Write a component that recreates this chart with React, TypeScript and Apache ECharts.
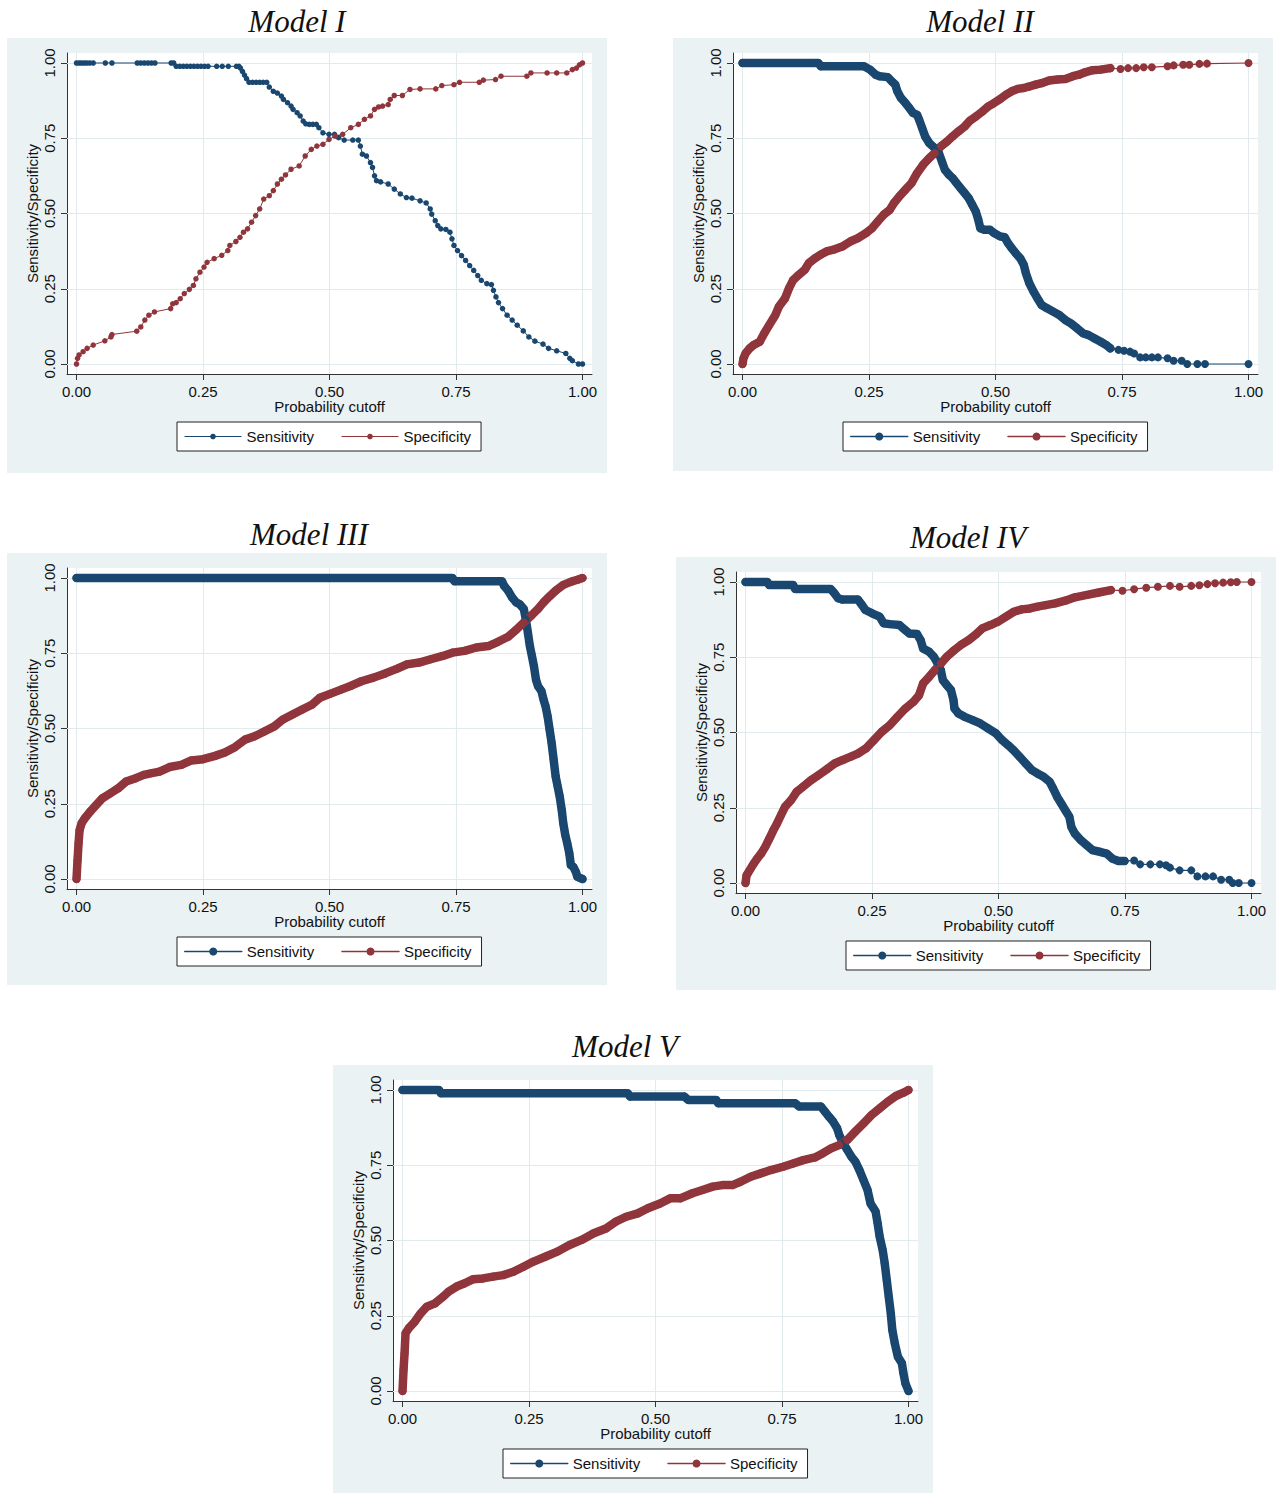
import React, { useEffect, useRef } from "react";
import * as echarts from "echarts";

type Pt = [number, number];

const TICKS = [0, 0.25, 0.5, 0.75, 1];
const TICK_LABELS = ["0.00", "0.25", "0.50", "0.75", "1.00"];
const X_NAME = "Probability cutoff";
const Y_NAME = "Sensitivity/Specificity";
const SERIES_NAMES = ["Sensitivity", "Specificity"];

// ---------- Model I ----------
const m1Sens: Pt[] = [
  [0, 1], [0.005, 1], [0.01, 1], [0.015, 1], [0.02, 1], [0.026, 1], [0.033, 1], [0.057, 1], [0.07, 1],
  [0.12, 1], [0.127, 1], [0.134, 1], [0.141, 1], [0.148, 1], [0.155, 1], [0.187, 1], [0.192, 1],
  [0.197, 0.989], [0.204, 0.989], [0.211, 0.989], [0.218, 0.989], [0.225, 0.989], [0.232, 0.989], [0.239, 0.989],
  [0.246, 0.989], [0.253, 0.989], [0.26, 0.989], [0.277, 0.989], [0.288, 0.989], [0.3, 0.989], [0.316, 0.989], [0.321, 0.989],
  [0.324, 0.983], [0.328, 0.972], [0.332, 0.96], [0.336, 0.948], [0.341, 0.936], [0.348, 0.936], [0.355, 0.936],
  [0.362, 0.936], [0.369, 0.936], [0.376, 0.936], [0.381, 0.92], [0.389, 0.906], [0.397, 0.9], [0.405, 0.89],
  [0.409, 0.879], [0.417, 0.868], [0.424, 0.857], [0.428, 0.846], [0.436, 0.835], [0.442, 0.824], [0.448, 0.807],
  [0.453, 0.798], [0.46, 0.796], [0.467, 0.796], [0.474, 0.796], [0.479, 0.785], [0.487, 0.768], [0.499, 0.763],
  [0.51, 0.763], [0.518, 0.752], [0.529, 0.744], [0.546, 0.744], [0.557, 0.744], [0.561, 0.724], [0.565, 0.697],
  [0.573, 0.691], [0.581, 0.669], [0.585, 0.653], [0.589, 0.625], [0.593, 0.609], [0.601, 0.605], [0.616, 0.598],
  [0.628, 0.581], [0.64, 0.565], [0.652, 0.553], [0.663, 0.551], [0.679, 0.542], [0.691, 0.535], [0.699, 0.515],
  [0.702, 0.498], [0.709, 0.476], [0.714, 0.46], [0.72, 0.449], [0.73, 0.447], [0.738, 0.438], [0.742, 0.416],
  [0.746, 0.394], [0.753, 0.377], [0.761, 0.36], [0.769, 0.344], [0.777, 0.327], [0.785, 0.311], [0.793, 0.294],
  [0.8, 0.278], [0.811, 0.267], [0.82, 0.264], [0.824, 0.245], [0.829, 0.223], [0.834, 0.204], [0.842, 0.184],
  [0.851, 0.162], [0.861, 0.146], [0.871, 0.129], [0.883, 0.11], [0.894, 0.09], [0.906, 0.076], [0.922, 0.066],
  [0.933, 0.052], [0.949, 0.044], [0.967, 0.035], [0.975, 0.019], [0.98, 0.011], [0.992, 0], [1, 0],
];
const m1Spec: Pt[] = [
  [0, 0], [0.002, 0.019], [0.005, 0.03], [0.013, 0.041], [0.021, 0.052], [0.033, 0.063], [0.056, 0.077],
  [0.068, 0.09], [0.07, 0.098], [0.119, 0.109], [0.127, 0.123], [0.135, 0.146], [0.143, 0.162], [0.154, 0.173],
  [0.186, 0.184], [0.19, 0.2], [0.197, 0.204], [0.205, 0.217], [0.213, 0.234], [0.223, 0.248], [0.231, 0.261],
  [0.236, 0.283], [0.244, 0.305], [0.252, 0.322], [0.258, 0.338], [0.272, 0.35], [0.287, 0.361], [0.299, 0.377],
  [0.303, 0.394], [0.315, 0.407], [0.323, 0.421], [0.33, 0.438], [0.338, 0.449], [0.346, 0.471], [0.354, 0.493],
  [0.362, 0.515], [0.37, 0.548], [0.381, 0.559], [0.389, 0.576], [0.397, 0.598], [0.405, 0.614], [0.413, 0.628],
  [0.424, 0.647], [0.44, 0.658], [0.452, 0.691], [0.464, 0.713], [0.475, 0.724], [0.487, 0.73], [0.499, 0.746],
  [0.511, 0.757], [0.526, 0.763], [0.542, 0.785], [0.557, 0.796], [0.569, 0.813], [0.581, 0.824], [0.589, 0.846],
  [0.597, 0.854], [0.605, 0.857], [0.616, 0.862], [0.62, 0.879], [0.628, 0.892], [0.644, 0.892], [0.659, 0.912],
  [0.679, 0.914], [0.71, 0.914], [0.722, 0.925], [0.746, 0.928], [0.757, 0.936], [0.796, 0.936], [0.804, 0.943],
  [0.828, 0.945], [0.839, 0.956], [0.89, 0.956], [0.898, 0.967], [0.93, 0.967], [0.949, 0.967], [0.969, 0.967],
  [0.98, 0.978], [0.988, 0.983], [0.994, 0.994], [1, 1],
];

// ---------- Model II ----------
const m2Sens: Pt[] = [
  [0, 1], [0.15, 1], [0.155, 0.989], [0.24, 0.989], [0.252, 0.978], [0.263, 0.961], [0.271, 0.956], [0.287, 0.953],
  [0.295, 0.939], [0.302, 0.928], [0.306, 0.906], [0.313, 0.884], [0.322, 0.867], [0.33, 0.85], [0.337, 0.834],
  [0.345, 0.828], [0.349, 0.812], [0.355, 0.784], [0.361, 0.756], [0.369, 0.734], [0.38, 0.717], [0.388, 0.701],
  [0.394, 0.673], [0.4, 0.645], [0.408, 0.629], [0.415, 0.618], [0.423, 0.601], [0.431, 0.584], [0.439, 0.568],
  [0.447, 0.551], [0.454, 0.529], [0.461, 0.507], [0.466, 0.479], [0.47, 0.451], [0.478, 0.446], [0.489, 0.446],
  [0.497, 0.435], [0.509, 0.424], [0.518, 0.421], [0.525, 0.401], [0.532, 0.385], [0.54, 0.368], [0.549, 0.351],
  [0.556, 0.329], [0.56, 0.302], [0.567, 0.268], [0.575, 0.241], [0.583, 0.218], [0.591, 0.196], [0.602, 0.185],
  [0.614, 0.174], [0.626, 0.163], [0.638, 0.146], [0.649, 0.135], [0.661, 0.119], [0.673, 0.102], [0.684, 0.096],
  [0.696, 0.085], [0.708, 0.074], [0.719, 0.063], [0.727, 0.052],
];
const m2SensTail: Pt[] = [
  [0.727, 0.052], [0.743, 0.047], [0.754, 0.044], [0.766, 0.041], [0.774, 0.035], [0.786, 0.022], [0.797, 0.022],
  [0.809, 0.022], [0.821, 0.022], [0.84, 0.019], [0.852, 0.011], [0.868, 0.011], [0.879, 0], [0.899, 0], [0.914, 0], [1, 0],
];
const m2Spec: Pt[] = [
  [0, 0], [0.002, 0.019], [0.006, 0.035], [0.014, 0.052], [0.022, 0.063], [0.034, 0.074], [0.043, 0.102],
  [0.053, 0.13], [0.065, 0.163], [0.072, 0.191], [0.084, 0.218], [0.092, 0.252], [0.1, 0.279], [0.111, 0.296],
  [0.123, 0.313], [0.131, 0.335], [0.143, 0.351], [0.154, 0.363], [0.166, 0.374], [0.182, 0.381], [0.197, 0.39],
  [0.213, 0.407], [0.228, 0.418], [0.244, 0.435], [0.256, 0.451], [0.267, 0.473], [0.279, 0.496], [0.291, 0.512],
  [0.299, 0.534], [0.31, 0.557], [0.322, 0.579], [0.334, 0.601], [0.345, 0.634], [0.357, 0.662], [0.369, 0.684],
  [0.38, 0.701], [0.392, 0.723], [0.404, 0.739], [0.415, 0.756], [0.427, 0.773], [0.439, 0.789], [0.45, 0.809],
  [0.462, 0.823], [0.474, 0.839], [0.486, 0.856], [0.497, 0.867], [0.509, 0.88], [0.521, 0.895], [0.532, 0.906],
  [0.544, 0.914], [0.556, 0.917], [0.567, 0.922], [0.579, 0.928], [0.591, 0.933], [0.606, 0.942], [0.622, 0.945],
  [0.638, 0.947], [0.653, 0.956], [0.665, 0.961], [0.677, 0.969], [0.692, 0.976], [0.708, 0.978], [0.727, 0.983],
];
const m2SpecTail: Pt[] = [
  [0.727, 0.983], [0.747, 0.98], [0.762, 0.983], [0.778, 0.983], [0.793, 0.986], [0.809, 0.986], [0.84, 0.989],
  [0.852, 0.992], [0.871, 0.994], [0.883, 0.994], [0.903, 0.997], [0.918, 0.998], [1, 1],
];

// ---------- Model III ----------
const m3Sens: Pt[] = [
  [0, 1], [0.743, 1], [0.747, 0.989], [0.841, 0.989], [0.845, 0.974], [0.853, 0.958], [0.861, 0.935], [0.869, 0.919],
  [0.876, 0.913], [0.884, 0.897], [0.888, 0.863], [0.892, 0.819], [0.896, 0.774], [0.9, 0.741], [0.904, 0.707],
  [0.908, 0.663], [0.912, 0.641], [0.919, 0.624], [0.923, 0.596], [0.927, 0.574], [0.931, 0.541], [0.935, 0.496],
  [0.939, 0.452], [0.943, 0.396], [0.947, 0.34], [0.951, 0.307], [0.955, 0.274], [0.959, 0.229], [0.962, 0.185],
  [0.966, 0.146], [0.97, 0.118], [0.974, 0.085], [0.977, 0.046], [0.982, 0.04], [0.987, 0.023], [0.99, 0.007], [1, 0],
];
const m3Spec: Pt[] = [
  [0, 0], [0.002, 0.062], [0.004, 0.118], [0.006, 0.162], [0.01, 0.185], [0.016, 0.201], [0.027, 0.224],
  [0.039, 0.246], [0.051, 0.268], [0.067, 0.285], [0.082, 0.301], [0.098, 0.324], [0.117, 0.335], [0.133, 0.346],
  [0.149, 0.352], [0.164, 0.357], [0.184, 0.372], [0.207, 0.379], [0.227, 0.394], [0.25, 0.398], [0.274, 0.409],
  [0.293, 0.42], [0.313, 0.438], [0.333, 0.463], [0.352, 0.474], [0.372, 0.491], [0.391, 0.507], [0.407, 0.529],
  [0.426, 0.546], [0.446, 0.563], [0.466, 0.58], [0.481, 0.602], [0.501, 0.615], [0.524, 0.63], [0.544, 0.643],
  [0.563, 0.657], [0.587, 0.669], [0.61, 0.683], [0.634, 0.699], [0.653, 0.713], [0.677, 0.719], [0.7, 0.73],
  [0.724, 0.741], [0.743, 0.752], [0.767, 0.758], [0.79, 0.769], [0.814, 0.774], [0.833, 0.788], [0.853, 0.805],
  [0.869, 0.828], [0.884, 0.852], [0.9, 0.877], [0.912, 0.897], [0.923, 0.919], [0.935, 0.939], [0.947, 0.958],
  [0.962, 0.977], [0.978, 0.988], [0.99, 0.994], [1, 1],
];

// ---------- Model IV ----------
const m4Sens: Pt[] = [
  [0, 1], [0.043, 1], [0.047, 0.99], [0.094, 0.99], [0.098, 0.977], [0.168, 0.977], [0.176, 0.962], [0.183, 0.946],
  [0.191, 0.942], [0.222, 0.942], [0.23, 0.924], [0.237, 0.907], [0.25, 0.896], [0.265, 0.885], [0.273, 0.863],
  [0.285, 0.86], [0.304, 0.857], [0.316, 0.84], [0.324, 0.829], [0.339, 0.827], [0.346, 0.807], [0.351, 0.779],
  [0.363, 0.768], [0.372, 0.752], [0.378, 0.735], [0.386, 0.707], [0.39, 0.674], [0.398, 0.657], [0.406, 0.641],
  [0.411, 0.608], [0.413, 0.58], [0.421, 0.563], [0.433, 0.552], [0.449, 0.541], [0.464, 0.53], [0.48, 0.513],
  [0.495, 0.497], [0.507, 0.475], [0.519, 0.458], [0.53, 0.441], [0.542, 0.419], [0.554, 0.397], [0.566, 0.375],
  [0.577, 0.364], [0.589, 0.353], [0.601, 0.336], [0.608, 0.314], [0.616, 0.286], [0.624, 0.264], [0.632, 0.242],
  [0.64, 0.22], [0.644, 0.186], [0.651, 0.164], [0.663, 0.142], [0.675, 0.125], [0.686, 0.109], [0.702, 0.103],
  [0.714, 0.098], [0.725, 0.081], [0.737, 0.073], [0.749, 0.073],
];
const m4SensTail: Pt[] = [
  [0.749, 0.073], [0.768, 0.075], [0.78, 0.062], [0.8, 0.062], [0.819, 0.062], [0.831, 0.059], [0.839, 0.051],
  [0.858, 0.042], [0.881, 0.042], [0.893, 0.022], [0.909, 0.022], [0.924, 0.022], [0.94, 0.011], [0.956, 0.011],
  [0.963, 0], [0.975, 0], [1, 0],
];
const m4Spec: Pt[] = [
  [0, 0], [0.002, 0.025], [0.008, 0.042], [0.016, 0.064], [0.023, 0.081], [0.031, 0.098], [0.039, 0.12],
  [0.047, 0.147], [0.055, 0.175], [0.062, 0.197], [0.07, 0.225], [0.078, 0.253], [0.09, 0.275], [0.101, 0.303],
  [0.113, 0.319], [0.129, 0.341], [0.144, 0.358], [0.16, 0.377], [0.176, 0.397], [0.191, 0.408], [0.207, 0.419],
  [0.222, 0.43], [0.238, 0.447], [0.254, 0.475], [0.269, 0.502], [0.285, 0.524], [0.3, 0.552], [0.316, 0.58],
  [0.332, 0.602], [0.343, 0.624], [0.351, 0.663], [0.363, 0.685], [0.374, 0.707], [0.386, 0.729], [0.398, 0.752],
  [0.413, 0.774], [0.425, 0.79], [0.441, 0.807], [0.456, 0.827], [0.468, 0.846], [0.484, 0.857], [0.499, 0.868],
  [0.515, 0.885], [0.53, 0.901], [0.546, 0.909], [0.562, 0.912], [0.577, 0.918], [0.593, 0.923], [0.612, 0.929],
  [0.632, 0.938], [0.651, 0.949], [0.675, 0.957], [0.698, 0.965], [0.722, 0.973],
];
const m4SpecTail: Pt[] = [
  [0.722, 0.973], [0.745, 0.971], [0.768, 0.976], [0.792, 0.981], [0.815, 0.984], [0.839, 0.987], [0.858, 0.984],
  [0.881, 0.987], [0.897, 0.989], [0.913, 0.993], [0.928, 0.996], [0.944, 0.998], [0.959, 0.999], [0.971, 1], [1, 1],
];

// ---------- Model V ----------
const m5Sens: Pt[] = [
  [0, 1], [0.072, 1], [0.076, 0.989], [0.445, 0.989], [0.45, 0.978], [0.557, 0.978], [0.565, 0.967], [0.62, 0.967],
  [0.624, 0.956], [0.776, 0.956], [0.784, 0.945], [0.827, 0.945], [0.835, 0.928], [0.843, 0.911], [0.851, 0.895],
  [0.859, 0.873], [0.863, 0.851], [0.871, 0.823], [0.879, 0.801], [0.887, 0.779], [0.895, 0.762], [0.903, 0.734],
  [0.911, 0.701], [0.919, 0.668], [0.925, 0.623], [0.935, 0.596], [0.939, 0.557], [0.943, 0.513], [0.949, 0.468],
  [0.953, 0.424], [0.957, 0.369], [0.961, 0.313], [0.965, 0.258], [0.968, 0.203], [0.973, 0.158], [0.979, 0.114],
  [0.987, 0.092], [0.99, 0.059], [0.994, 0.025], [1, 0],
];
const m5Spec: Pt[] = [
  [0, 0], [0.002, 0.07], [0.004, 0.125], [0.006, 0.192], [0.012, 0.208], [0.024, 0.23], [0.036, 0.258],
  [0.048, 0.28], [0.064, 0.291], [0.08, 0.313], [0.091, 0.33], [0.107, 0.347], [0.123, 0.358], [0.139, 0.371],
  [0.159, 0.374], [0.179, 0.38], [0.199, 0.385], [0.219, 0.396], [0.239, 0.413], [0.259, 0.43], [0.282, 0.446],
  [0.306, 0.463], [0.33, 0.485], [0.354, 0.502], [0.378, 0.524], [0.402, 0.54], [0.422, 0.563], [0.442, 0.579],
  [0.465, 0.59], [0.485, 0.607], [0.509, 0.623], [0.529, 0.64], [0.549, 0.64], [0.573, 0.657], [0.593, 0.668],
  [0.613, 0.679], [0.632, 0.684], [0.652, 0.684], [0.668, 0.695], [0.688, 0.712], [0.708, 0.723], [0.728, 0.734],
  [0.752, 0.745], [0.772, 0.756], [0.792, 0.767], [0.815, 0.776], [0.831, 0.79], [0.847, 0.806], [0.863, 0.817],
  [0.879, 0.834], [0.895, 0.862], [0.911, 0.889], [0.927, 0.917], [0.943, 0.939], [0.959, 0.961], [0.975, 0.98],
  [0.99, 0.991], [1, 1],
];

// ---------- styling ----------
const NAVY = "#1a476f";
const MAROON = "#90353b";
const PANEL_BG = "#eaf2f3";
const GRID_COLOR = "#e1eaed";
const AXIS_COLOR = "#333333";
const SANS = "'Liberation Sans', Arial, sans-serif";
const SERIF = "'Liberation Serif', 'Times New Roman', serif";

const TOP_PAD = 40; // space above the panel box for the title
const X_MIN = -0.0188;
const X_MAX = 1.0188;
const Y_MIN = -0.0332;
const Y_MAX = 1.0332;

type Curve = { dense?: Pt[]; dots?: Pt[] };
type PanelCfg = {
  title: string;
  left: number;
  top: number;
  h: number;
  titleX: number;
  titleY: number;
  small: boolean;
  sens: Curve;
  spec: Curve;
};

const PANELS: PanelCfg[] = [
  { title: "Model I", left: 7, top: 38, h: 435, titleX: 290, titleY: 23, small: true, sens: { dots: m1Sens }, spec: { dots: m1Spec } },
  { title: "Model II", left: 673, top: 38, h: 433, titleX: 307, titleY: 23, small: false, sens: { dense: m2Sens, dots: m2SensTail }, spec: { dense: m2Spec, dots: m2SpecTail } },
  { title: "Model III", left: 7, top: 553, h: 432, titleX: 302, titleY: 21, small: false, sens: { dense: m3Sens }, spec: { dense: m3Spec } },
  { title: "Model IV", left: 676, top: 557, h: 433, titleX: 292, titleY: 20, small: false, sens: { dense: m4Sens, dots: m4SensTail }, spec: { dense: m4Spec, dots: m4SpecTail } },
  { title: "Model V", left: 333, top: 1065, h: 428, titleX: 292, titleY: 21, small: false, sens: { dense: m5Sens }, spec: { dense: m5Spec } },
];

const tickFormatter = (v: number) => {
  const i = TICKS.indexOf(v);
  return i >= 0 ? TICK_LABELS[i] : v.toFixed(2);
};

function curveSeries(name: string, c: Curve, color: string, small: boolean) {
  const out: any[] = [];
  if (c.dense) {
    out.push({
      type: "line",
      name,
      data: c.dense,
      symbol: "circle",
      symbolSize: 8,
      showAllSymbol: true,
      lineStyle: { color, width: 8.5, cap: "round", join: "round" },
      itemStyle: { color },
      z: 3,
      silent: true,
    });
  }
  if (c.dots) {
    out.push({
      type: "line",
      name,
      data: c.dots,
      symbol: "circle",
      symbolSize: small ? 5.5 : 8,
      showAllSymbol: true,
      lineStyle: { color, width: small ? 1 : 1.2 },
      itemStyle: { color },
      z: 3,
      silent: true,
    });
  }
  return out;
}

function buildOption(cfg: PanelCfg) {
  const axisText = { fontFamily: SANS, fontSize: 15, color: "#111" };
  const gridSeries = {
    type: "line",
    data: [],
    silent: true,
    z: 1,
    markLine: {
      silent: true,
      z: 1,
      animation: false,
      symbol: ["none", "none"],
      label: { show: false },
      lineStyle: { color: GRID_COLOR, width: 1, type: "solid" },
      emphasis: { disabled: true },
      data: [...TICKS.map((v) => ({ xAxis: v })), ...TICKS.map((v) => ({ yAxis: v }))],
    },
  };
  return {
    animation: false,
    backgroundColor: "transparent",
    graphic: [
      {
        type: "text",
        x: cfg.titleX,
        y: cfg.titleY,
        silent: true,
        style: {
          text: cfg.title,
          fontFamily: SERIF,
          fontStyle: "italic",
          fontSize: 31,
          fill: "#111",
          align: "center",
          verticalAlign: "middle",
        },
      },
    ],
    grid: {
      left: 60,
      top: TOP_PAD + 15,
      width: 525,
      height: 321,
      show: true,
      backgroundColor: "#ffffff",
      borderWidth: 0,
    },
    legend: {
      data: SERIES_NAMES,
      left: 170,
      top: TOP_PAD + 384,
      orient: "horizontal",
      padding: [7, 10, 7, 7],
      itemWidth: 57,
      itemHeight: cfg.small ? 7 : 10,
      itemGap: 27,
      backgroundColor: "#ffffff",
      borderColor: "#222",
      borderWidth: 1,
      borderRadius: 0,
      selectedMode: false,
      textStyle: { fontFamily: SANS, fontSize: 15, color: "#111" },
      lineStyle: { width: cfg.small ? 1 : 1.5 },
    },
    xAxis: {
      type: "value",
      min: X_MIN,
      max: X_MAX,
      axisLine: { show: true, onZero: false, lineStyle: { color: AXIS_COLOR, width: 1 } },
      axisTick: { show: true, customValues: TICKS, length: 6, lineStyle: { color: AXIS_COLOR, width: 1 } },
      axisLabel: { customValues: TICKS, formatter: tickFormatter, margin: 10, ...axisText },
      splitLine: { show: false },
      name: X_NAME,
      nameLocation: "middle",
      nameGap: 25,
      nameMoveOverlap: false,
      nameTextStyle: axisText,
    },
    yAxis: {
      type: "value",
      min: Y_MIN,
      max: Y_MAX,
      axisLine: { show: true, onZero: false, lineStyle: { color: AXIS_COLOR, width: 1 } },
      axisTick: { show: true, customValues: TICKS, length: 6, lineStyle: { color: AXIS_COLOR, width: 1 } },
      axisLabel: { customValues: TICKS, formatter: tickFormatter, margin: 10, rotate: 90, ...axisText },
      splitLine: { show: false },
      name: Y_NAME,
      nameLocation: "middle",
      nameGap: 27,
      nameMoveOverlap: false,
      nameTextStyle: axisText,
    },
    series: [
      gridSeries,
      ...curveSeries(SERIES_NAMES[0], cfg.sens, NAVY, cfg.small),
      ...curveSeries(SERIES_NAMES[1], cfg.spec, MAROON, cfg.small),
    ],
  };
}

function Panel({ cfg }: { cfg: PanelCfg }) {
  const ref = useRef<HTMLDivElement | null>(null);
  useEffect(() => {
    if (!ref.current) return;
    const chart = echarts.init(ref.current, null, { renderer: "svg" });
    chart.setOption(buildOption(cfg) as any);
    return () => chart.dispose();
  }, [cfg]);
  return (
    <>
      <div
        style={{
          position: "absolute",
          left: cfg.left,
          top: cfg.top,
          width: 600,
          height: cfg.h,
          background: PANEL_BG,
        }}
      />
      <div
        ref={ref}
        style={{
          position: "absolute",
          left: cfg.left,
          top: cfg.top - TOP_PAD,
          width: 600,
          height: cfg.h + TOP_PAD,
        }}
      />
    </>
  );
}

export default function App() {
  return (
    <div
      style={{
        position: "absolute",
        left: 0,
        top: 0,
        width: 1278,
        height: 1493,
        background: "#ffffff",
        overflow: "hidden",
      }}
    >
      {PANELS.map((p) => (
        <Panel key={p.title} cfg={p} />
      ))}
    </div>
  );
}
